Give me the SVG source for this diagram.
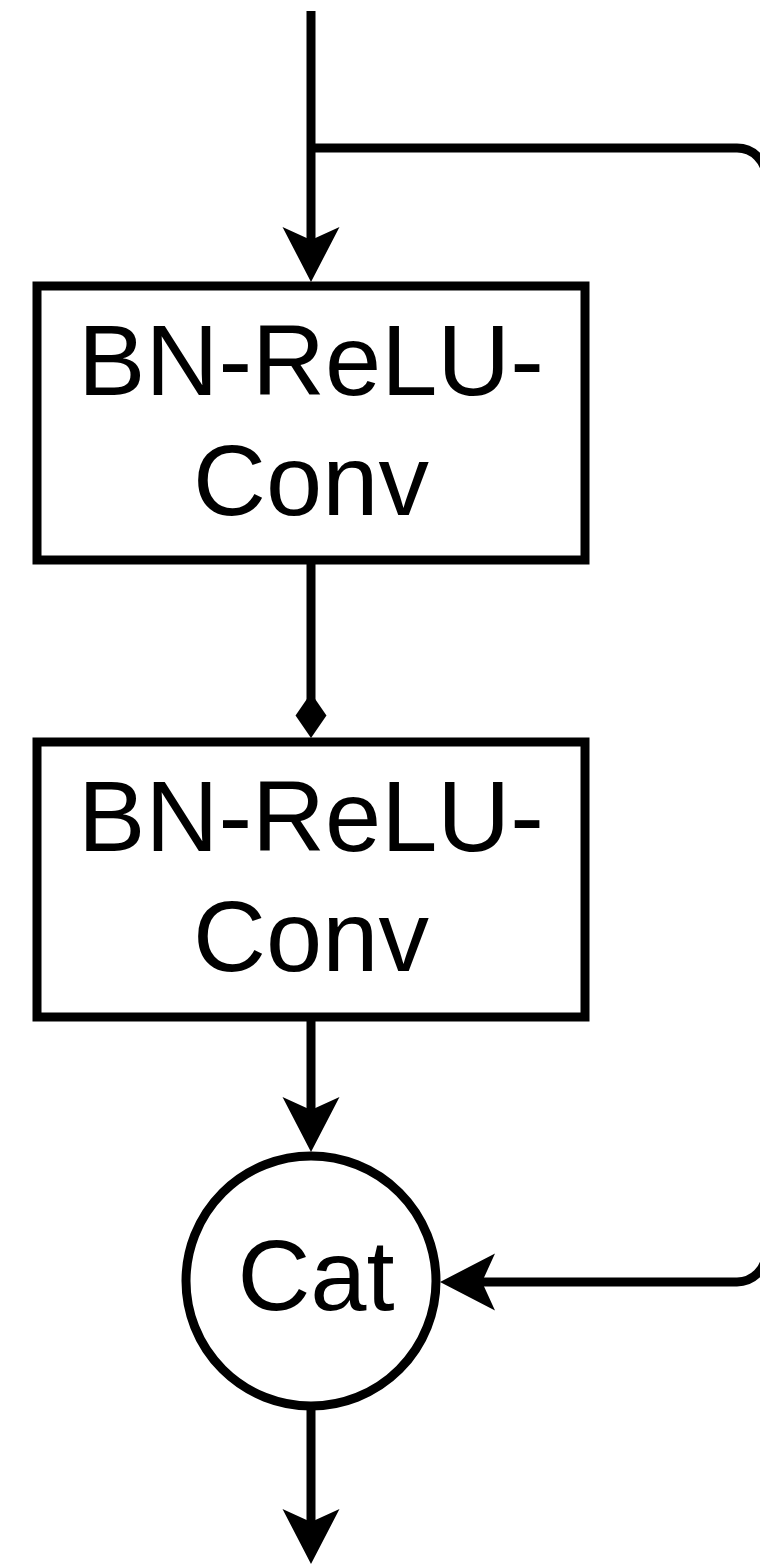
<svg xmlns="http://www.w3.org/2000/svg" width="760" height="1568" viewBox="0 0 760 1568">
  <style>
    .box { fill: #ffffff; stroke: #000000; stroke-width: 9; }
    .edge { fill: none; stroke: #000000; stroke-width: 9; }
    .label { font-family: "Liberation Sans", Arial, Helvetica, sans-serif; font-size: 101px; fill: #000000; text-anchor: middle; }
  </style>
  <defs>
    <!-- open-notch arrowhead: vertex sits at the notch, tip lies 42 px further on -->
    <marker id="arrow" markerUnits="userSpaceOnUse" markerWidth="60" markerHeight="60" viewBox="-57 -30 60 60" refX="-42" refY="0" orient="auto" overflow="visible">
      <path d="M0 0 L-55 -28.5 L-42 0 L-55 28.5 Z" fill="#000000"/>
    </marker>
    <!-- filled diamond: vertex 38 px before the far point -->
    <marker id="diamond" markerUnits="userSpaceOnUse" markerWidth="50" markerHeight="40" viewBox="-47 -20 50 40" refX="-38" refY="0" orient="auto" overflow="visible">
      <path d="M0 0 L-22.5 -15.5 L-45 0 L-22.5 15.5 Z" fill="#000000"/>
    </marker>
  </defs>

  <g id="connectors">
    <!-- input -->
    <path class="edge" d="M311 11 V240" marker-end="url(#arrow)"/>
    <!-- skip branch into Cat; its vertical run lies just past the right edge -->
    <path class="edge" d="M311 148 H737 A29 29 0 0 1 766 177 V1253 A29 29 0 0 1 737 1282 H482" marker-end="url(#arrow)"/>
    <!-- conv 1 to conv 2 -->
    <path class="edge" d="M311 564 V700" marker-end="url(#diamond)"/>
    <!-- conv 2 to Cat -->
    <path class="edge" d="M311 1021 V1110" marker-end="url(#arrow)"/>
    <!-- output -->
    <path class="edge" d="M311 1410 V1522" marker-end="url(#arrow)"/>
  </g>

  <g id="conv1">
    <rect class="box" x="37" y="286" width="548" height="274"/>
    <text class="label" x="311" y="395">BN-ReLU-</text>
    <text class="label" x="311" y="515">Conv</text>
  </g>

  <g id="conv2">
    <rect class="box" x="37" y="742" width="548" height="275"/>
    <text class="label" x="311" y="851">BN-ReLU-</text>
    <text class="label" x="311" y="971">Conv</text>
  </g>

  <g id="cat">
    <circle class="box" cx="311" cy="1281" r="125"/>
    <text class="label" x="316" y="1310">Cat</text>
  </g>
</svg>
